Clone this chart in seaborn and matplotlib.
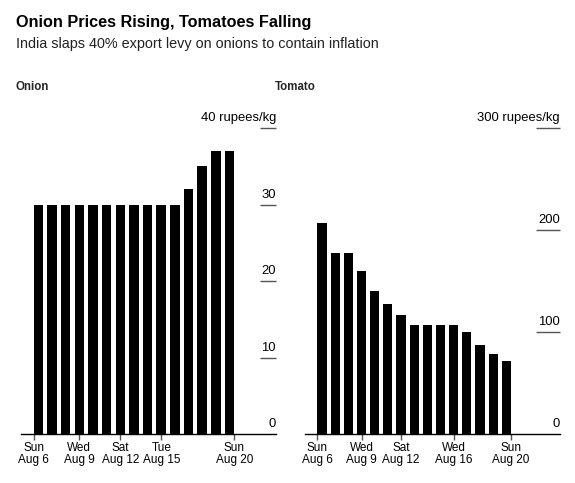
import matplotlib
matplotlib.use("Agg")
import matplotlib.pyplot as plt
import matplotlib.transforms as mtransforms
import seaborn as sns
import pandas as pd

days = ["Aug 6", "Aug 7", "Aug 8", "Aug 9", "Aug 10", "Aug 11", "Aug 12", "Aug 13",
        "Aug 14", "Aug 15", "Aug 16", "Aug 17", "Aug 18", "Aug 19", "Aug 20"]
onion = [30, 30, 30, 30, 30, 30, 30, 30, 30, 30, 30, 32, 35, 37, 37]
tomato = [207, 177, 177, 160, 140, 127, 117, 107, 107, 107, 107, 100, 87, 78, 72]

onion_tick_idx = [0, 3, 6, 9, 14]
onion_tick_labels = ["Sun\nAug 6", "Wed\nAug 9", "Sat\nAug 12", "Tue\nAug 15", "Sun\nAug 20"]
tomato_tick_idx = [0, 3, 6, 10, 14]
tomato_tick_labels = ["Sun\nAug 6", "Wed\nAug 9", "Sat\nAug 12", "Wed\nAug 16", "Sun\nAug 20"]

onion_yticks = [0, 10, 20, 30, 40]
tomato_yticks = [0, 100, 200, 300]

sns.set_theme(style="white")
plt.rcParams['font.family'] = ['Liberation Sans', 'DejaVu Sans']

W, H = 575, 483
fig = plt.figure(figsize=(W / 100, H / 100), dpi=100)
fig.patch.set_facecolor("white")

BAR_W = 0.7


def panel(left_px, values, tick_idx, tick_labels, yticks, unit, xlim, tick_len):
    ax = fig.add_axes([left_px / W, 1 - 434 / H, 255 / W, 306 / H])
    df = pd.DataFrame({"day": days, "price": values})
    sns.barplot(data=df, x="day", y="price", color="black", saturation=1,
                width=BAR_W, linewidth=0, ax=ax)
    ax.set_xlim(*xlim)
    ax.set_ylim(yticks[0], yticks[-1])
    for s in ["left", "top", "right"]:
        ax.spines[s].set_visible(False)
    ax.spines["bottom"].set_color("black")
    ax.spines["bottom"].set_linewidth(1.0)

    # first and last ticks sit on the outer bar edges
    pos = list(tick_idx)
    pos[0] = pos[0] - BAR_W / 2
    pos[-1] = pos[-1] + BAR_W / 2
    ax.set_xticks(pos, tick_labels)
    ax.tick_params(axis="x", bottom=True, length=4, width=1, color="#555555",
                   pad=2, labelsize=8.5, labelcolor="black")
    for lbl in ax.get_xticklabels():
        lbl.set_linespacing(0.95)

    ax.yaxis.tick_right()
    ax.set_yticks(yticks[1:])
    ax.tick_params(axis="y", right=True, direction="in", length=tick_len, width=1,
                   color="#555555", labelright=False)
    trans = mtransforms.blended_transform_factory(ax.transAxes, ax.transData)
    trans = mtransforms.offset_copy(trans, fig=fig, y=5, units="points")
    for v in yticks:
        txt = f"{v} {unit}" if v == yticks[-1] else f"{v}"
        ax.text(1.0, v, txt, transform=trans, ha="right", va="baseline",
                fontsize=9.4, color="black", clip_on=False)
    ax.set_xlabel("")
    ax.set_ylabel("")
    return ax


panel(21, onion, onion_tick_idx, onion_tick_labels, onion_yticks, "rupees/kg",
      (-1.27, 17.4), 11.5)
panel(305, tomato, tomato_tick_idx, tomato_tick_labels, tomato_yticks, "rupees/kg",
      (-1.29, 18.07), 17.3)

fig.text(16 / W, 1 - 27 / H, "Onion Prices Rising, Tomatoes Falling", fontsize=11.7,
         fontweight="bold", va="baseline", ha="left", color="black")
fig.text(16 / W, 1 - 48 / H, "India slaps 40% export levy on onions to contain inflation",
         fontsize=10.4, va="baseline", ha="left", color="#222222")
fig.text(16 / W, 1 - 90 / H, "Onion", fontsize=8.3, fontweight="bold", va="baseline", ha="left")
fig.text(275 / W, 1 - 90 / H, "Tomato", fontsize=8.3, fontweight="bold", va="baseline", ha="left")

fig.savefig("out.png", dpi=100, facecolor="white")
